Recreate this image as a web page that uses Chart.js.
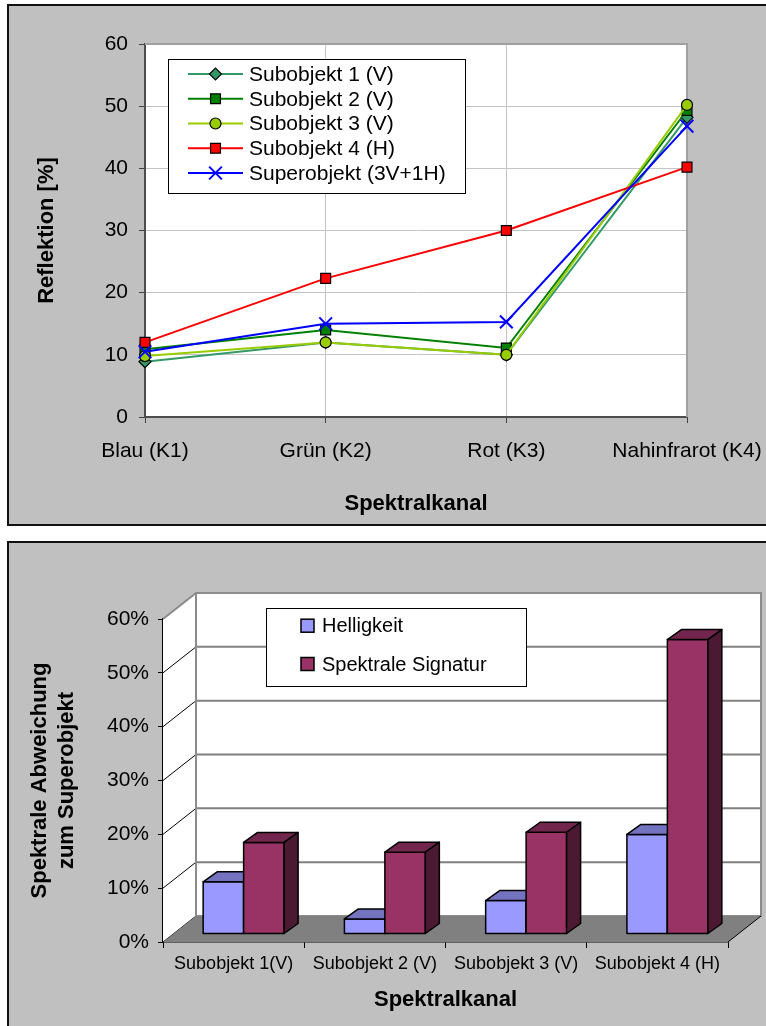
<!DOCTYPE html>
<html>
<head>
<meta charset="utf-8">
<script src="https://cdn.jsdelivr.net/npm/chart.js@4.4.1/dist/chart.umd.min.js"></script>
<style>
  html, body { margin: 0; padding: 0; background: #fff; width: 766px; height: 1026px; overflow: hidden; }
  .panel { position: absolute; left: 7px; width: 800px; border: 2px solid #111; background: #c0c0c0; }
  #p1 { top: 4px; height: 518px; }
  #p2 { top: 541px; height: 500px; }
  canvas { position: absolute; left: 0; top: 0; }
</style>
</head>
<body>
<div class="panel" id="p1"><canvas id="reflexion" width="757" height="518"></canvas></div>
<div class="panel" id="p2"><canvas id="abweichung" width="757" height="483"></canvas></div>
<script>
/* global Chart */
// Oben: Reflektion je Spektralkanal
const KANAELE = ['Blau (K1)', 'Grün (K2)', 'Rot (K3)', 'Nahinfrarot (K4)'];
const SUB1 = [8.9, 12.0, 10.0, 48.2];
const SUB2 = [10.9, 14.0, 11.1, 49.3];
const SUB3 = [9.8, 12.0, 10.0, 50.2];
const SUB4 = [12.0, 22.3, 30.0, 40.2];
const SUPER = [10.5, 15.0, 15.3, 46.8];

// Unten: Abweichung zum Superobjekt (%)
const OBJEKTE = ['Subobjekt 1(V)', 'Subobjekt 2 (V)', 'Subobjekt 3 (V)', 'Subobjekt 4 (H)'];
const HELLIGKEIT = [9.7, 2.8, 6.2, 18.5];
const SIGNATUR = [17.0, 15.2, 18.9, 54.7];

const FONT = "'Liberation Sans', Arial, sans-serif";
Chart.defaults.font.family = FONT;
Chart.defaults.color = '#000';

const helpers = Chart.helpers;

// weisser Hintergrund + Rahmen der Zeichenflaeche
const plotFlaeche = {
  id: 'plotFlaeche',
  beforeDraw(chart) {
    const { ctx, chartArea: a } = chart;
    ctx.save();
    ctx.fillStyle = '#fff';
    ctx.fillRect(a.left, a.top, a.right - a.left, a.bottom - a.top);
    ctx.restore();
  },
  beforeDatasetsDraw(chart) {
    const { ctx, chartArea: a } = chart;
    ctx.save();
    ctx.strokeStyle = '#a0a0a0';
    ctx.lineWidth = 2;
    ctx.beginPath();
    ctx.moveTo(a.left, a.top);
    ctx.lineTo(a.right, a.top);
    ctx.lineTo(a.right, a.bottom);
    ctx.stroke();
    ctx.restore();
  }
};

// Legende mit Kasten (Linien + Marker)
const legendeLinien = {
  id: 'legendeLinien',
  afterDraw(chart, args, o) {
    const ctx = chart.ctx;
    ctx.save();
    ctx.fillStyle = '#fff';
    ctx.fillRect(o.x, o.y, o.w, o.h);
    ctx.strokeStyle = '#000';
    ctx.lineWidth = 1;
    ctx.strokeRect(o.x + 0.5, o.y + 0.5, o.w, o.h);
    chart.data.datasets.forEach((ds, i) => {
      const cy = o.y + o.first + i * o.step;
      ctx.strokeStyle = ds.borderColor;
      ctx.lineWidth = 2;
      ctx.beginPath();
      ctx.moveTo(o.x + o.lineFrom, cy);
      ctx.lineTo(o.x + o.lineTo, cy);
      ctx.stroke();
      ctx.fillStyle = ds.pointBackgroundColor;
      ctx.strokeStyle = ds.pointBorderColor;
      ctx.lineWidth = ds.pointBorderWidth;
      helpers.drawPoint(ctx, { pointStyle: ds.pointStyle, radius: ds.pointRadius, rotation: 0, borderWidth: ds.pointBorderWidth },
        o.x + (o.lineFrom + o.lineTo) / 2, cy);
      ctx.fillStyle = '#000';
      ctx.font = o.font;
      ctx.textBaseline = 'middle';
      ctx.textAlign = 'left';
      ctx.fillText(ds.label, o.x + o.text, cy + 1);
    });
    ctx.restore();
  }
};

function serie(label, data, farbe, stil, radius, rand) {
  return {
    label, data,
    borderColor: farbe, borderWidth: 2, tension: 0,
    pointStyle: stil, pointRadius: radius, pointHoverRadius: radius,
    pointBackgroundColor: farbe, pointBorderColor: rand, pointBorderWidth: rand === '#000' ? 1.2 : 2
  };
}

const reihen = [
  serie('Subobjekt 1 (V)', SUB1, '#339966', 'rectRot', 6, '#000'),
  serie('Subobjekt 2 (V)', SUB2, '#008000', 'rect', 7, '#000'),
  serie('Subobjekt 3 (V)', SUB3, '#99cc00', 'circle', 5.5, '#000'),
  serie('Subobjekt 4 (H)', SUB4, '#ff0000', 'rect', 7, '#000'),
  serie('Superobjekt (3V+1H)', SUPER, '#0000ff', 'crossRot', 9, '#0000ff')
];
reihen.forEach((r, i) => { r.order = reihen.length - i; });

new Chart(document.getElementById('reflexion'), {
  type: 'line',
  data: { labels: KANAELE, datasets: reihen },
  options: {
    responsive: false, animation: false,
    layout: { padding: { left: 0, top: 38, right: 79, bottom: 0 } },
    plugins: {
      legend: { display: false }, tooltip: { enabled: false },
      legendeLinien: { x: 159, y: 53, w: 297, h: 134, first: 15, step: 24.75, lineFrom: 20, lineTo: 75, text: 81, font: `21px ${FONT}` }
    },
    scales: {
      x: {
        offset: false,
        afterFit: s => { s.height = 107; s.paddingLeft = 0; s.paddingRight = 0; },
        grid: { color: '#c4c4c4', lineWidth: 1, tickLength: 6, tickColor: '#404040' },
        border: { color: '#4d4d4d', width: 2 },
        ticks: { font: { size: 21 }, padding: 16, maxRotation: 0, autoSkip: false },
        title: { display: true, text: 'Spektralkanal', font: { size: 22, weight: 'bold' }, padding: { top: 0, bottom: 7 } }
      },
      y: {
        min: 0, max: 60,
        afterFit: s => { s.width = 136; },
        grid: { color: '#c4c4c4', lineWidth: 1, tickLength: 6, tickColor: '#404040' },
        border: { color: '#4d4d4d', width: 2 },
        ticks: { stepSize: 10, font: { size: 21 }, padding: 11 },
        title: { display: true, text: 'Reflektion [%]', font: { size: 22, weight: 'bold' }, padding: { top: 25, bottom: 0 } }
      }
    }
  },
  plugins: [plotFlaeche, legendeLinien]
});

// 3D-Saeulen: Waende, Boden, Saeulen mit Deckel und Seite
const saeulen3d = {
  id: 'saeulen3d',
  beforeDatasetsDraw(chart, args, o) {
    const { ctx, chartArea: a, scales: { y } } = chart;
    const wx = o.wand.x, wy = o.wand.y;
    ctx.save();
    // Seitenwand
    ctx.fillStyle = '#fff';
    ctx.beginPath();
    ctx.moveTo(a.left, a.top); ctx.lineTo(a.left + wx, a.top - wy);
    ctx.lineTo(a.left + wx, a.bottom - wy); ctx.lineTo(a.left, a.bottom);
    ctx.closePath(); ctx.fill();
    // Rueckwand
    ctx.fillRect(a.left + wx, a.top - wy, a.right - a.left, a.bottom - a.top);
    // Gitterlinien hinten + Diagonalen an der Seitenwand
    y.ticks.forEach(t => {
      const py = y.getPixelForValue(t.value);
      ctx.strokeStyle = '#808080'; ctx.lineWidth = 2;
      ctx.beginPath(); ctx.moveTo(a.left + wx, py - wy); ctx.lineTo(a.right + wx, py - wy); ctx.stroke();
      ctx.strokeStyle = '#000'; ctx.lineWidth = 1;
      ctx.beginPath(); ctx.moveTo(a.left, py); ctx.lineTo(a.left + wx, py - wy); ctx.stroke();
    });
    ctx.strokeStyle = '#8c8c8c'; ctx.lineWidth = 2;
    ctx.strokeRect(a.left + wx, a.top - wy, a.right - a.left, a.bottom - a.top);
    ctx.beginPath(); ctx.moveTo(a.left, a.top); ctx.lineTo(a.left + wx, a.top - wy); ctx.stroke();
    // Boden
    ctx.fillStyle = '#808080';
    ctx.beginPath();
    ctx.moveTo(a.left, a.bottom); ctx.lineTo(a.right, a.bottom);
    ctx.lineTo(a.right + wx, a.bottom - wy); ctx.lineTo(a.left + wx, a.bottom - wy);
    ctx.closePath(); ctx.fill();
    ctx.strokeStyle = '#000'; ctx.lineWidth = 1;
    ctx.beginPath(); ctx.moveTo(a.right, a.bottom); ctx.lineTo(a.right + wx, a.bottom - wy); ctx.stroke();
    ctx.restore();
    ctx.save();
    ctx.translate(o.versatz.x, o.versatz.y);
  },
  afterDatasetsDraw(chart, args, o) {
    const ctx = chart.ctx;
    const dx = o.tiefe.x, dy = -o.tiefe.y;
    const flaeche = (pts, farbe) => {
      ctx.fillStyle = farbe;
      ctx.beginPath();
      pts.forEach(([px, py], i) => (i ? ctx.lineTo(px, py) : ctx.moveTo(px, py)));
      ctx.closePath(); ctx.fill(); ctx.stroke();
    };
    ctx.strokeStyle = '#000'; ctx.lineWidth = 1.5; ctx.lineJoin = 'round';
    chart.data.labels.forEach((_, k) => {
      chart.data.datasets.forEach((ds, i) => {
        const { x, y, base, width } = chart.getDatasetMeta(i).data[k].getProps(['x', 'y', 'base', 'width'], true);
        const l = x - width / 2, r = x + width / 2;
        flaeche([[l, y], [r, y], [r, base], [l, base]], ds.backgroundColor);
        flaeche([[l, y], [l + dx, y + dy], [r + dx, y + dy], [r, y]], o.deckel[i]);
        flaeche([[r, y], [r + dx, y + dy], [r + dx, base + dy], [r, base]], o.seite[i]);
      });
    });
    ctx.restore();
  }
};

const legendeSaeulen = {
  id: 'legendeSaeulen',
  afterDraw(chart, args, o) {
    const ctx = chart.ctx;
    ctx.save();
    ctx.fillStyle = '#fff';
    ctx.fillRect(o.x, o.y, o.w, o.h);
    ctx.strokeStyle = '#000'; ctx.lineWidth = 1;
    ctx.strokeRect(o.x + 0.5, o.y + 0.5, o.w, o.h);
    chart.data.datasets.forEach((ds, i) => {
      const cy = o.y + o.first + i * o.step;
      ctx.fillStyle = ds.backgroundColor;
      ctx.fillRect(o.x + o.box, cy - o.size / 2, o.size, o.size);
      ctx.lineWidth = 1.5;
      ctx.strokeRect(o.x + o.box, cy - o.size / 2, o.size, o.size);
      ctx.fillStyle = '#000';
      ctx.font = o.font; ctx.textBaseline = 'middle'; ctx.textAlign = 'left';
      ctx.fillText(ds.label, o.x + o.text, cy + 1);
    });
    ctx.restore();
  }
};

new Chart(document.getElementById('abweichung'), {
  type: 'bar',
  data: {
    labels: OBJEKTE,
    datasets: [
      { label: 'Helligkeit', data: HELLIGKEIT, backgroundColor: '#9999ff', borderWidth: 0 },
      { label: 'Spektrale Signatur', data: SIGNATUR, backgroundColor: '#993366', borderWidth: 0 }
    ]
  },
  options: {
    responsive: false, animation: false,
    categoryPercentage: 0.573, barPercentage: 1,
    layout: { padding: { left: 0, top: 76, right: 38, bottom: 0 } },
    plugins: {
      legend: { display: false }, tooltip: { enabled: false },
      saeulen3d: {
        wand: { x: 33, y: 26 }, versatz: { x: 10, y: -8 }, tiefe: { x: 14, y: 10 },
        deckel: ['#7373c0', '#73264d'], seite: ['#4d4d80', '#4c1933']
      },
      legendeSaeulen: { x: 257, y: 65, w: 260, h: 78, first: 17.7, step: 38.3, box: 35, size: 13, text: 56, font: `20px ${FONT}` }
    },
    scales: {
      x: {
        afterFit: s => { s.height = 84; },
        grid: { drawOnChartArea: false, tickLength: 6, tickColor: '#000', offset: true },
        border: { color: '#000', width: 1.5 },
        ticks: { font: { size: 18 }, padding: 5, maxRotation: 0, autoSkip: false },
        title: { display: true, text: 'Spektralkanal', font: { size: 22, weight: 'bold' }, padding: { top: 0, bottom: 13 } }
      },
      y: {
        min: 0, max: 60,
        afterFit: s => { s.width = 154; },
        grid: { drawOnChartArea: false, tickLength: 5, tickColor: '#000' },
        border: { color: '#000', width: 1.5 },
        ticks: { stepSize: 10, font: { size: 21 }, padding: 9, callback: v => v + '%' },
        title: {
          display: true, text: ['Spektrale Abweichung', 'zum Superobjekt'],
          font: { size: 22, weight: 'bold', lineHeight: 1.2 }, padding: { top: 18, bottom: 0 }
        }
      }
    }
  },
  plugins: [saeulen3d, legendeSaeulen]
});
</script>
</body>
</html>
